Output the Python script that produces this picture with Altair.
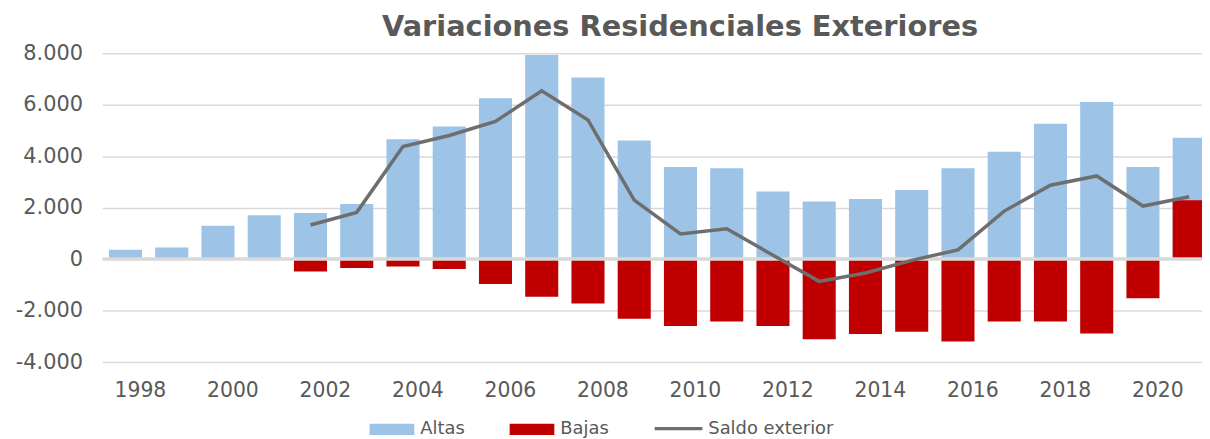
import altair as alt
import pandas as pd

years = list(range(1998, 2022))
altas = [360, 450, 1300, 1700, 1790, 2140, 4660, 5150, 6250, 7930, 7050, 4610,
         3575, 3525, 2625, 2240, 2330, 2680, 3525, 4170, 5260, 6100, 3575, 4710]
bajas = [None, None, None, None, -480, -350, -285, -385, -965, -1465, -1725, -2315,
         -2600, -2420, -2600, -3115, -2910, -2820, -3205, -2420, -2420, -2895, -1520, 2290]
saldo = [None, None, None, None, 1325, 1815, 4375, 4800, 5350, 6535, 5405, 2290,
         980, 1180, 150, -865, -540, -50, 360, 1865, 2870, 3230, 2060, 2420]
label_years = [1998, 2000, 2002, 2004, 2006, 2008, 2010, 2012, 2014, 2016, 2018, 2020]
y_ticks = [-4000, -2000, 0, 2000, 4000, 6000, 8000]

series_bars = ["Altas", "Bajas"]
series_line = ["Saldo exterior"]

rows = []
for i, (yr, a, b) in enumerate(zip(years, altas, bajas)):
    rows.append({"year": yr, "serie": "Altas", "value": a, "ord": 0})
    if b is not None:
        rows.append({"year": yr, "serie": "Bajas", "value": b, "ord": 1})
bars_df = pd.DataFrame(rows)
line_df = pd.DataFrame([{"year": yr, "serie": "Saldo exterior", "value": s}
                        for yr, s in zip(years, saldo) if s is not None])
zero_df = pd.DataFrame({"value": [0]})

FONT = "DejaVu Sans"
GRAY = "#595959"

x_enc = alt.X(
    "year:O",
    scale=alt.Scale(range=[0, 1117.4], paddingInner=0.285, paddingOuter=0.1425),
    axis=alt.Axis(values=label_years, title=None, labelAngle=0, ticks=False, tickSize=0,
                  domain=False, grid=False, labelFontSize=20.5, labelColor=GRAY,
                  labelFont=FONT, labelPadding=19, labelOffset=15),
)
y_scale = alt.Scale(domain=[-4000, 8000], nice=False)
y_axis = alt.Axis(values=y_ticks, title=None, ticks=False, tickSize=0, domain=False,
                  grid=True, gridColor="#D9D9D9", gridWidth=1.5,
                  labelFontSize=21, labelColor=GRAY, labelFont=FONT, labelPadding=20,
                  labelExpr="replace(replace(format(datum.value, ','), ',', '.'), '\u2212', '-')")

bars = alt.Chart(bars_df).mark_bar().encode(
    x=x_enc,
    y=alt.Y("value:Q", scale=y_scale, axis=y_axis, stack=None),
    order=alt.Order("ord:Q"),
    color=alt.Color(
        "serie:N",
        scale=alt.Scale(domain=series_bars, range=["#9DC3E6", "#C00000"]),
        legend=alt.Legend(title=None, orient="none", legendX=269, legendY=356,
                          direction="horizontal", symbolType="M-1,-0.25H1V0.25H-1Z",
                          symbolSize=2025, symbolStrokeWidth=0, labelFontSize=18,
                          labelColor=GRAY, labelFont=FONT, columnPadding=45,
                          labelOffset=6, padding=0),
    ),
)

zero = alt.Chart(zero_df).mark_rule(color="#D9D9D9", strokeWidth=3.5).encode(
    y=alt.Y("value:Q", scale=y_scale)
)

line = alt.Chart(line_df).mark_line(strokeWidth=3.5).encode(
    x=x_enc,
    y=alt.Y("value:Q", scale=y_scale),
    stroke=alt.Stroke(
        "serie:N",
        scale=alt.Scale(domain=series_line, range=["#6E6E6E"]),
        legend=alt.Legend(title=None, orient="none", legendX=554, legendY=352,
                          symbolType="stroke", symbolSize=2304, symbolStrokeWidth=3.5,
                          labelFontSize=18, labelColor=GRAY, labelFont=FONT,
                          labelOffset=4, padding=0),
    ),
)

chart = alt.layer(bars, zero, line).properties(
    width=1107,
    height=311,
    title=alt.TitleParams("Variaciones Residenciales Exteriores", fontSize=29, font=FONT,
                          fontWeight="bold", color=GRAY, anchor="middle", dx=28, offset=0),
    autosize=alt.AutoSizeParams(type="none"),
    padding={"left": 95, "top": 44, "right": 0, "bottom": 76},
).configure_view(stroke=None)

chart.save("out.html", embed_options={"renderer": "svg", "actions": False})
